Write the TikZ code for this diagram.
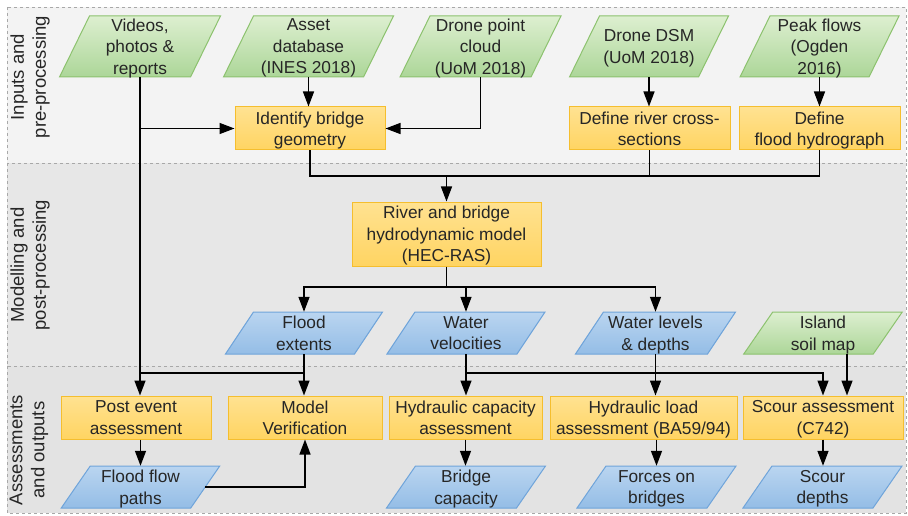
\documentclass[tikz,border=0pt]{standalone}
\usepackage{fontspec}
\setmainfont{Liberation Sans}
\usetikzlibrary{arrows.meta,calc}
\definecolor{txtc}{HTML}{262626}
\definecolor{bandTop}{HTML}{F3F3F3}
\definecolor{bandMid}{HTML}{E7E7E7}
\definecolor{bandBot}{HTML}{E3E3E3}
\definecolor{bandDraw}{HTML}{A8A8A8}
\definecolor{grTop}{HTML}{DDEFD0}
\definecolor{grBot}{HTML}{ACD698}
\definecolor{grDraw}{HTML}{8CC26E}
\definecolor{orTop}{HTML}{FFE291}
\definecolor{orBot}{HTML}{FFD462}
\definecolor{orDraw}{HTML}{F5BE2E}
\definecolor{blTop}{HTML}{BAD5F0}
\definecolor{blBot}{HTML}{94BDE6}
\definecolor{blDraw}{HTML}{6FA4DA}
\tikzset{
  txt/.style={inner sep=0pt, align=center, text=txtc, text depth=0pt, font=\fontsize{17.3}{21.5}\selectfont},
  obox/.style={txt, draw=orDraw, line width=1pt, top color=orTop, bottom color=orBot},
  gpara/.style={draw=grDraw, line width=1pt, top color=grTop, bottom color=grBot},
  bpara/.style={draw=blDraw, line width=1pt, top color=blTop, bottom color=blBot},
  conn/.style={draw=black, line width=1.4pt},
  arr/.style={conn, -{Triangle[length=15pt,width=11pt]}},
  band/.style={draw=bandDraw, dashed, line width=0.8pt},
  lab/.style={rotate=90, anchor=center, align=center, inner sep=0pt, text=txtc, font=\fontsize{18.5}{22}\selectfont}
}
% style, name, cx, cy, w, h, slant, text
\newcommand\mypara[8]{%
  \path[#1] ({#3-#5/2-#7/2},{#4+#6/2}) -- ({#3-#5/2+#7/2},{#4-#6/2}) -- ({#3+#5/2+#7/2},{#4-#6/2}) -- ({#3+#5/2-#7/2},{#4+#6/2}) -- cycle;
  \node[txt, minimum width=#5, minimum height=#6] (#2) at (#3,#4) {#8};}
\begin{document}
\begin{tikzpicture}[x=1pt,y=-1pt]
\useasboundingbox (0,0) rectangle (908,516);
% bands
\path[band, fill=bandTop] (7,7) rectangle (906,163);
\path[band, fill=bandMid] (7,163) rectangle (906,366);
\path[band, fill=bandBot] (7,366) rectangle (906,513);
\node[lab] (l1) at (30,77) {Inputs and\\pre-processing};
\node[lab] (l2) at (30,265) {Modelling and\\post-processing};
\node[lab] (l3) at (29,450) {Assessments\\and outputs};
% top inputs
\mypara{gpara}{videos}{140}{46.5}{131}{61}{30}{Videos,\\photos \&\\reports}
\mypara{gpara}{asset}{308.5}{46.5}{140}{61}{30}{Asset\\database\\(INES 2018)}
\mypara{gpara}{cloud}{480.5}{46.5}{131}{61}{30}{Drone point\\cloud\\(UoM 2018)}
\mypara{gpara}{dsm}{649}{46.5}{129}{61}{30}{Drone DSM\\(UoM 2018)}
\mypara{gpara}{peak}{819.5}{46.5}{129}{61}{30}{Peak flows\\(Ogden\\2016)}
\node[obox, minimum width=150, minimum height=43] (identify) at (310,128.5) {Identify bridge\\geometry};
\node[obox, minimum width=161, minimum height=43] (xsec) at (649.5,128.5) {Define river cross-\\sections};
\node[obox, minimum width=161, minimum height=43] (hydro) at (819.5,128.5) {Define\\flood hydrograph};
% model
\node[obox, minimum width=189, minimum height=64] (model) at (446.5,234) {River and bridge\\hydrodynamic model\\(HEC-RAS)};
\mypara{bpara}{ext}{304}{333}{129}{42}{28}{Flood\\extents}
\mypara{bpara}{vel}{466}{333}{130}{42}{28}{Water\\velocities}
\mypara{bpara}{lev}{655.5}{333}{132}{42}{28}{Water levels\\\& depths}
\mypara{gpara}{soil}{823}{333}{129.5}{42}{29}{Island\\soil map}
% assessments
\node[obox, minimum width=150, minimum height=43] (post) at (136,417.5) {Post event\\assessment};
\node[obox, minimum width=154, minimum height=43] (verif) at (305,417.5) {Model\\Verification};
\node[obox, minimum width=153, minimum height=43] (hydcap) at (465.5,417.5) {Hydraulic capacity\\assessment};
\node[obox, minimum width=187, minimum height=43] (hydload) at (643.5,417.5) {Hydraulic load\\assessment (BA59/94)};
\node[obox, minimum width=160, minimum height=43] (scour) at (823,417.5) {Scour assessment\\(C742)};
\mypara{bpara}{flow}{140.5}{487}{129.5}{42}{29}{Flood flow\\paths}
\mypara{bpara}{bcap}{466}{487}{130}{42}{29}{Bridge\\capacity}
\mypara{bpara}{forces}{656.5}{487}{130}{42}{29}{Forces on\\bridges}
\mypara{bpara}{sdepth}{822.5}{487}{130}{42}{29}{Scour\\depths}
% connectors
\coordinate (busA) at (446.5,176);
\coordinate (busB) at (446.5,287);
\coordinate (busC) at (0,373);
\draw[arr] (videos.south) -- (videos.south |- post.north);
\draw[arr] (videos.south |- identify.west) -- (identify.west);
\draw[arr] (asset.south) -- (asset.south |- identify.north);
\draw[arr] (cloud.south) |- (identify.east);
\draw[arr] (dsm.south) -- (dsm.south |- xsec.north);
\draw[arr] (peak.south) -- (peak.south |- hydro.north);
\draw[conn] (identify.south) |- (hydro.south |- busA) -- (hydro.south);
\draw[conn] (xsec.south) -- (xsec.south |- busA);
\draw[arr] (busA) -- (model.north);
\draw[conn] (model.south) -- (busB);
\draw[arr] (busB) -| (ext.north);
\draw[arr] (busB) -| (lev.north);
\draw[arr] (vel.north |- busB) -- (vel.north);
\draw[arr] (ext.south) -- (ext.south |- verif.north);
\draw[conn] (ext.south |- busC) -- (videos.south |- busC);
\draw[arr] (vel.south) -- (vel.south |- hydcap.north);
\draw[arr] (vel.south |- busC) -| (scour.north);
\draw[arr] (lev.south) -- (lev.south |- hydload.north);
\draw[arr] ([xshift=24pt]soil.south) -- ([xshift=24pt]soil.south |- scour.north);
\draw[arr] (flow.north |- post.south) -- (flow.north);
\draw[arr] (flow.east) -| (verif.south);
\draw[arr] (hydcap.south) -- (hydcap.south |- bcap.north);
\draw[arr] (forces.north |- hydload.south) -- (forces.north);
\draw[arr] (scour.south) -- (scour.south |- sdepth.north);
\end{tikzpicture}
\end{document}
